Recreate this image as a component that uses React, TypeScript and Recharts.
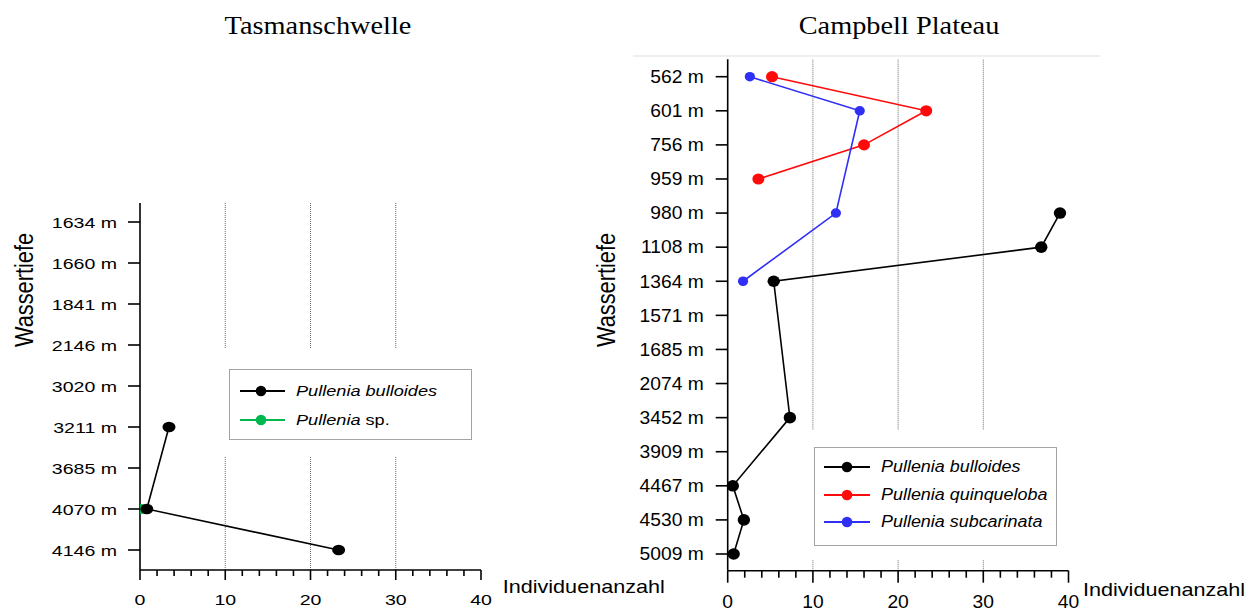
import React from 'react';
import { LineChart, Line, XAxis, YAxis, ReferenceLine, Legend, Label } from 'recharts';

// ---------- data ----------
const tasmanDepths = ['1634 m', '1660 m', '1841 m', '2146 m', '3020 m', '3211 m', '3685 m', '4070 m', '4146 m'];
const tasmanBulloides = [null, null, null, null, null, 3.4, null, 0.8, 23.3];
const tasmanSp = [null, null, null, null, null, null, null, 0.2, null];

const campbellDepths = ['562 m', '601 m', '756 m', '959 m', '980 m', '1108 m', '1364 m', '1571 m', '1685 m', '2074 m', '3452 m', '3909 m', '4467 m', '4530 m', '5009 m'];
const campbellBulloides = [null, null, null, null, 39.0, 36.8, 5.4, null, null, null, 7.3, null, 0.6, 1.9, 0.7];
const campbellQuinqueloba = [5.2, 23.3, 16.0, 3.6, null, null, null, null, null, null, null, null, null, null, null];
const campbellSubcarinata = [2.6, 15.5, null, null, 12.7, null, 1.8, null, null, null, null, null, null, null, null];

const xTicks = [0, 2, 4, 6, 8, 10, 12, 14, 16, 18, 20, 22, 24, 26, 28, 30, 32, 34, 36, 38, 40];
const gridValues = [10, 20, 30];
const xDomain = [0, 40];

const titles = ['Tasmanschwelle', 'Campbell Plateau'];
const yTitle = 'Wassertiefe';
const xTitle = 'Individuenanzahl';

// ---------- styles ----------
const SANS = '"Liberation Sans", Arial, Helvetica, sans-serif';
const SERIF = '"Liberation Serif", "Times New Roman", serif';

type Series = {
  key: string;
  genus: string;
  epithet: string;
  italicEpithet: boolean;
  color: string;
  values: (number | null)[];
  rx: number;
  ry: number;
};

type Cfg = {
  left: number;
  width: number;
  plotTop: number;
  marginRight: number;
  yAxisWidth: number;
  xAxisHeight: number;
  padTop: number;
  padBottom: number;
  depths: string[];
  series: Series[];
  drawOrder: number[];
  tickFont: number;
  tickSx: number;
  yTickSize: number;
  yTickMargin: number;
  xMajorLen: number;
  xMinorLen: number;
  xLabelDy: number;
  legend: {
    left: number; top: number; pad: [number, number, number, number];
    w: number; h: number; rows: number[]; lineX: number; lineW: number; dotX: number; textX: number;
    font: number; sx: number;
  };
  xTitleX: number; xTitleY: number;
  yTitleX: number; yTitleY: number;
};

const leftCfg: Cfg = {
  left: 0,
  width: 690,
  plotTop: 203,
  marginRight: 209,
  yAxisWidth: 140,
  xAxisHeight: 42,
  padTop: 19,
  padBottom: 20,
  depths: tasmanDepths,
  series: [
    { key: 'bulloides', genus: 'Pullenia', epithet: 'bulloides', italicEpithet: true, color: '#000000', values: tasmanBulloides, rx: 6.5, ry: 5.3 },
    { key: 'sp', genus: 'Pullenia', epithet: 'sp.', italicEpithet: false, color: '#00b84f', values: tasmanSp, rx: 5.5, ry: 5 },
  ],
  drawOrder: [1, 0],
  tickFont: 15.4,
  tickSx: 1.27,
  yTickSize: 12,
  yTickMargin: 11,
  xMajorLen: 10,
  xMinorLen: 6,
  xLabelDy: 35,
  legend: {
    left: 212, top: 349, pad: [20, 6, 16, 17],
    w: 243, h: 71, rows: [22.7, 51.7], lineX: 11, lineW: 45, dotX: 32, textX: 67.7,
    font: 14.5, sx: 1.25,
  },
  xTitleX: 502.7, xTitleY: 593,
  yTitleX: 33, yTitleY: 290,
};

const rightCfg: Cfg = {
  left: 580,
  width: 669,
  plotTop: 59.3,
  marginRight: 180.5,
  yAxisWidth: 147.7,
  xAxisHeight: 41.3,
  padTop: 17.4,
  padBottom: 16.7,
  depths: campbellDepths,
  series: [
    { key: 'bulloides', genus: 'Pullenia', epithet: 'bulloides', italicEpithet: true, color: '#000000', values: campbellBulloides, rx: 6.2, ry: 5.8 },
    { key: 'quinqueloba', genus: 'Pullenia', epithet: 'quinqueloba', italicEpithet: true, color: '#ff0a0a', values: campbellQuinqueloba, rx: 6, ry: 5.6 },
    { key: 'subcarinata', genus: 'Pullenia', epithet: 'subcarinata', italicEpithet: true, color: '#2f2ff5', values: campbellSubcarinata, rx: 5.1, ry: 4.8 },
  ],
  drawOrder: [0, 1, 2],
  tickFont: 17.5,
  tickSx: 1.1,
  yTickSize: 12,
  yTickMargin: 12,
  xMajorLen: 12,
  xMinorLen: 7,
  xLabelDy: 37,
  legend: {
    left: 234 - 16, top: 446.7 - 16.7, pad: [16.7, 8, 14, 16],
    w: 243, h: 99, rows: [21.3, 48.5, 76], lineX: 10, lineW: 46, dotX: 33, textX: 67.7,
    font: 16, sx: 1.12,
  },
  xTitleX: 1083 - 580, xTitleY: 596,
  yTitleX: 35, yTitleY: 290,
};

const AXIS = { stroke: '#000', strokeWidth: 1.6 };

function SpeciesName({ s }: { s: Series }) {
  return (
    <span>
      <span style={{ fontStyle: 'italic' }}>{s.genus}</span>{' '}
      <span style={{ fontStyle: s.italicEpithet ? 'italic' : 'normal' }}>{s.epithet}</span>
    </span>
  );
}

function makeLegend(cfg: Cfg) {
  const L = cfg.legend;
  return () => (
    <div
      style={{
        boxSizing: 'border-box',
        width: L.w,
        height: L.h,
        border: '1.5px solid #a3a3a3',
        position: 'relative',
        fontFamily: SANS,
        fontSize: L.font,
        color: '#000',
        background: '#fff',
      }}
    >
      {cfg.series.map((s, i) => (
        <div key={s.key} style={{ position: 'absolute', left: 0, top: L.rows[i] - 10 - 1.5, height: 20, width: L.w }}>
          <svg width={L.lineX + L.lineW + 4} height={20} style={{ position: 'absolute', left: -1.5, top: 0 }}>
            <line x1={L.lineX} x2={L.lineX + L.lineW} y1={10} y2={10} stroke={s.color} strokeWidth={1.8} />
            <circle cx={L.dotX} cy={10} r={5.3} fill={s.color} />
          </svg>
          <span
            style={{
              position: 'absolute',
              left: L.textX - 1.5,
              top: 0,
              lineHeight: '20px',
              whiteSpace: 'nowrap',
              display: 'inline-block',
              transform: `scaleX(${L.sx})`,
              transformOrigin: 'left center',
            }}
          >
            <SpeciesName s={s} />
          </span>
        </div>
      ))}
    </div>
  );
}

function DepthChart({ cfg }: { cfg: Cfg }) {
  const data = cfg.depths.map((d, i) => {
    const row: Record<string, string | number | null> = { depth: d };
    cfg.series.forEach((s) => {
      row[s.key] = s.values[i];
    });
    return row;
  });

  const XTick = (props: any) => {
    const { x, y, payload } = props;
    const v = payload.value as number;
    const major = v % 10 === 0;
    return (
      <g>
        <line x1={x} x2={x} y1={y} y2={y + (major ? cfg.xMajorLen : cfg.xMinorLen)} stroke="#000" strokeWidth={1.6} />
        {major && (
          <text
            transform={`translate(${x},${y + cfg.xLabelDy}) scale(${cfg.tickSx},1)`}
            textAnchor="middle"
            fontFamily={SANS}
            fontSize={cfg.tickFont}
            fill="#000"
          >
            {v}
          </text>
        )}
      </g>
    );
  };

  const YTick = (props: any) => {
    const { x, y, payload } = props;
    return (
      <text
        transform={`translate(${x},${y}) scale(${cfg.tickSx},1)`}
        textAnchor="end"
        dy="0.36em"
        fontFamily={SANS}
        fontSize={cfg.tickFont}
        fill="#000"
      >
        {payload.value}
      </text>
    );
  };

  const L = cfg.legend;

  return (
    <div style={{ position: 'absolute', left: cfg.left, top: 0 }}>
      <LineChart
        layout="vertical"
        width={cfg.width}
        height={612}
        data={data}
        margin={{ top: cfg.plotTop, right: cfg.marginRight, bottom: 0, left: 0 }}
      >
        <XAxis
          type="number"
          domain={xDomain}
          ticks={xTicks}
          interval={0}
          height={cfg.xAxisHeight}
          tickSize={0}
          tickMargin={0}
          tickLine={false}
          axisLine={AXIS}
          tick={<XTick />}
          allowDataOverflow
        >
          <Label
            content={() => (
              <text
                transform={`translate(${cfg.xTitleX},${cfg.xTitleY}) scale(1.2,1)`}
                fontFamily={SANS}
                fontSize={18}
                fill="#000"
              >
                {xTitle}
              </text>
            )}
          />
        </XAxis>
        <XAxis
          xAxisId="top"
          orientation="top"
          type="number"
          domain={xDomain}
          height={0}
          tick={false}
          tickLine={false}
          axisLine={AXIS}
        />
        <YAxis
          type="category"
          dataKey="depth"
          scale="point"
          padding={{ top: cfg.padTop, bottom: cfg.padBottom }}
          width={cfg.yAxisWidth}
          interval={0}
          tickSize={cfg.yTickSize}
          tickMargin={cfg.yTickMargin}
          tickLine={AXIS}
          axisLine={AXIS}
          tick={<YTick />}
        >
          <Label
            content={() => (
              <text
                transform={`translate(${cfg.yTitleX},${cfg.yTitleY}) scale(1.15,1) rotate(-90)`}
                textAnchor="middle"
                fontFamily={SANS}
                fontSize={21.8}
                fill="#000"
              >
                {yTitle}
              </text>
            )}
          />
        </YAxis>
        <YAxis
          yAxisId="right"
          orientation="right"
          type="category"
          dataKey="depth"
          width={0}
          tick={false}
          tickLine={false}
          axisLine={AXIS}
        />
        {gridValues.map((v) => (
          <ReferenceLine key={`g${v}`} x={v} stroke="#6a6a6a" strokeWidth={1} strokeDasharray="1 1" />
        ))}
        {cfg.drawOrder.map((idx) => {
          const s = cfg.series[idx];
          return (
            <Line
              key={s.key}
              dataKey={s.key}
              name={`${s.genus} ${s.epithet}`}
              stroke={s.color}
              strokeWidth={1.6}
              connectNulls
              isAnimationActive={false}
              activeDot={false}
              dot={(p: any) => {
                const val = p.payload ? p.payload[s.key] : null;
                if (val === null || val === undefined || p.cx == null || p.cy == null || isNaN(p.cx) || isNaN(p.cy)) {
                  return <g key={`d-${s.key}-${p.index}`} />;
                }
                return <ellipse key={`d-${s.key}-${p.index}`} cx={p.cx} cy={p.cy} rx={s.rx} ry={s.ry} fill={s.color} />;
              }}
            />
          );
        })}
        <Legend
          layout="vertical"
          align="center"
          verticalAlign="middle"
          content={makeLegend(cfg)}
          wrapperStyle={{
            left: L.left,
            top: L.top,
            width: 'auto',
            height: 'auto',
            background: '#fff',
            padding: `${L.pad[0]}px ${L.pad[1]}px ${L.pad[2]}px ${L.pad[3]}px`,
            margin: 0,
            lineHeight: 'normal',
          }}
        />
      </LineChart>
    </div>
  );
}

export default function App() {
  return (
    <div style={{ position: 'absolute', left: 0, top: 0, width: 1249, height: 612, background: '#fff', overflow: 'hidden' }}>
      <div style={{ position: 'absolute', left: 633, top: 55, width: 467, height: 1.5, background: '#efefef' }} />
      <svg width={1249} height={50} style={{ position: 'absolute', left: 0, top: 0 }}>
        <text transform="translate(318,34) scale(1.09,1)" textAnchor="middle" fontFamily={SERIF} fontSize={26} fill="#000">
          {titles[0]}
        </text>
        <text transform="translate(899,34) scale(1.09,1)" textAnchor="middle" fontFamily={SERIF} fontSize={26} fill="#000">
          {titles[1]}
        </text>
      </svg>
      <DepthChart cfg={leftCfg} />
      <DepthChart cfg={rightCfg} />
    </div>
  );
}
